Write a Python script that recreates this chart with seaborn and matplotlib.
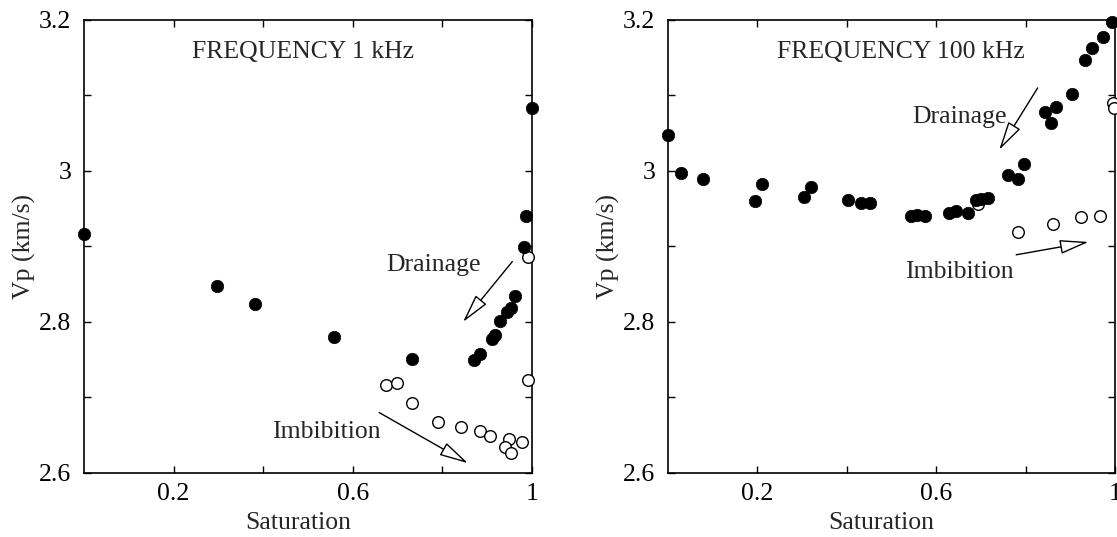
import numpy as np
import pandas as pd
import matplotlib
matplotlib.use("Agg")
import matplotlib.pyplot as plt
import seaborn as sns
from matplotlib.ticker import FixedLocator, FixedFormatter

# ---------------- data ----------------
# 1 kHz panel
drain_1k_s = [0.0, 0.296, 0.381, 0.559, 0.731, 0.870, 0.884, 0.910, 0.918, 0.928,
              0.944, 0.952, 0.961, 0.982, 0.986, 1.0]
drain_1k_vp = [2.917, 2.847, 2.824, 2.780, 2.751, 2.750, 2.757, 2.778, 2.783, 2.801,
               2.813, 2.819, 2.835, 2.899, 2.941, 3.084]
imb_1k_s = [0.675, 0.698, 0.733, 0.790, 0.842, 0.884, 0.906, 0.948, 0.940, 0.952,
            0.978, 0.990, 0.990]
imb_1k_vp = [2.717, 2.719, 2.693, 2.668, 2.661, 2.655, 2.649, 2.645, 2.635, 2.627,
             2.641, 2.723, 2.886]

# 100 kHz panel
drain_100k_s = [0.0, 0.029, 0.078, 0.195, 0.211, 0.304, 0.321, 0.403, 0.431, 0.453,
                0.544, 0.556, 0.575, 0.629, 0.645, 0.672, 0.688, 0.700, 0.717,
                0.761, 0.783, 0.797, 0.843, 0.857, 0.869, 0.904, 0.933, 0.948,
                0.973, 0.993]
drain_100k_vp = [3.047, 2.997, 2.989, 2.960, 2.983, 2.965, 2.979, 2.961, 2.958, 2.958,
                 2.941, 2.942, 2.941, 2.944, 2.947, 2.945, 2.961, 2.963, 2.964,
                 2.995, 2.990, 3.009, 3.078, 3.064, 3.085, 3.102, 3.147, 3.163,
                 3.178, 3.197]
imb_100k_s = [0.694, 0.783, 0.861, 0.924, 0.967, 0.995, 0.998]
imb_100k_vp = [2.956, 2.919, 2.930, 2.939, 2.940, 3.090, 3.083]

titles = ["FREQUENCY 1 kHz", "FREQUENCY 100 kHz"]
x_major = [0.2, 0.6, 1.0]
x_major_labels = ["0.2", "0.6", "1"]
x_minor = [0.4, 0.8]
y_major = [2.6, 2.8, 3.0, 3.2]
y_major_labels = ["2.6", "2.8", "3", "3.2"]
y_minor = [2.7, 2.9, 3.1]

# ---------------- style ----------------
sns.set_theme(style="ticks")
plt.rcParams["font.family"] = ["Liberation Serif", "DejaVu Serif"]
FS = 18.5

fig = plt.figure(figsize=(11.17, 5.37), dpi=100)
ax1 = fig.add_axes([0.0752, 0.1192, 0.4011, 0.8436])
ax2 = fig.add_axes([0.598, 0.1192, 0.4002, 0.8436])

panels = [
    (ax1, drain_1k_s, drain_1k_vp, imb_1k_s, imb_1k_vp),
    (ax2, drain_100k_s, drain_100k_vp, imb_100k_s, imb_100k_vp),
]

for i, (ax, ds, dv, is_, iv) in enumerate(panels):
    df_d = pd.DataFrame({"S": ds, "Vp": dv})
    df_i = pd.DataFrame({"S": is_, "Vp": iv})
    sns.scatterplot(data=df_i, x="S", y="Vp", ax=ax, s=70, marker="o",
                    facecolor="white", edgecolor="black", linewidth=1.0,
                    clip_on=False, zorder=3)
    sns.scatterplot(data=df_d, x="S", y="Vp", ax=ax, s=80, marker="o",
                    color="black", edgecolor="black", linewidth=0.5,
                    clip_on=False, zorder=4)
    ax.set_xlim(0, 1)
    ax.set_ylim(2.6, 3.2)
    ax.xaxis.set_major_locator(FixedLocator(x_major))
    ax.xaxis.set_major_formatter(FixedFormatter(x_major_labels))
    ax.xaxis.set_minor_locator(FixedLocator(x_minor))
    ax.yaxis.set_major_locator(FixedLocator(y_major))
    ax.yaxis.set_major_formatter(FixedFormatter(y_major_labels))
    ax.yaxis.set_minor_locator(FixedLocator(y_minor))
    ax.tick_params(which="both", direction="in", length=5, width=1.0,
                   top=True, right=True, colors="black", labelsize=FS)
    ax.tick_params(axis="y", which="major", pad=9)
    ax.tick_params(axis="x", which="major", pad=7)
    for sp in ax.spines.values():
        sp.set_visible(True)
        sp.set_color("black")
        sp.set_linewidth(1.2)
    ax.set_xlabel("Saturation", fontsize=FS, labelpad=5, x=0.478)
    ax.set_ylabel("Vp (km/s)", fontsize=FS, labelpad=2)
    ax.set_facecolor("white")
    ax.text(0.489 if i == 0 else 0.521, 3.157, titles[i], fontsize=FS,
            ha="center", va="center")

arrow = dict(arrowstyle="-|>,head_length=0.9,head_width=0.22",
             facecolor="white", edgecolor="black", lw=1.0, mutation_scale=20,
             shrinkA=0, shrinkB=0)

# left panel annotations
ax1.annotate("", xy=(0.846, 2.800), xytext=(0.956, 2.880), arrowprops=arrow)
ax1.text(0.78, 2.875, "Drainage", fontsize=FS, ha="center", va="center")
ax1.annotate("", xy=(0.857, 2.613), xytext=(0.659, 2.680), arrowprops=arrow)
ax1.text(0.541, 2.654, "Imbibition", fontsize=FS, ha="center", va="center")

# right panel annotations
ax2.annotate("", xy=(0.741, 3.028), xytext=(0.827, 3.110), arrowprops=arrow)
ax2.text(0.652, 3.072, "Drainage", fontsize=FS, ha="center", va="center")
ax2.annotate("", xy=(0.941, 2.906), xytext=(0.779, 2.889), arrowprops=arrow)
ax2.text(0.651, 2.866, "Imbibition", fontsize=FS, ha="center", va="center")

fig.savefig("out.png", dpi=100, facecolor="white")
